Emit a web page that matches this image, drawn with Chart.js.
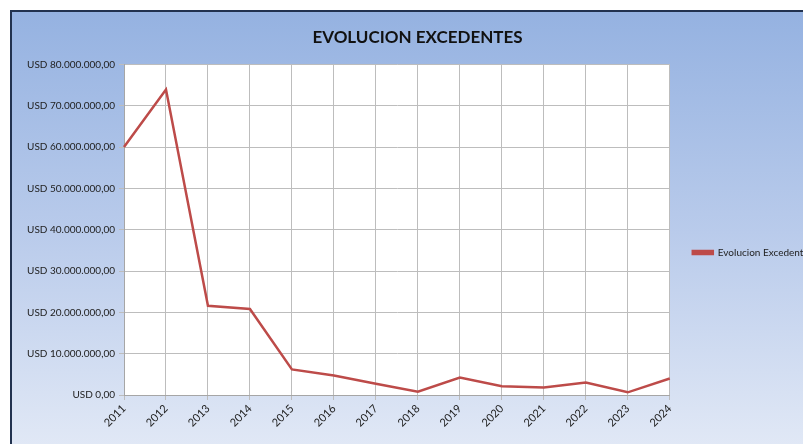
<!DOCTYPE html>
<html>
<head>
<meta charset="utf-8">
<script src="https://cdn.jsdelivr.net/npm/chart.js@4/dist/chart.umd.min.js"></script>
<style>
    html, body { margin: 0; padding: 0; background: #ffffff; overflow: hidden; width: 803px; height: 444px; }
    #frame {
        position: absolute; left: 10px; top: 10px; width: 840px; height: 440px;
        border-top: 2px solid #22324f; border-left: 2px solid #22324f;
        background: linear-gradient(to bottom, #95b2e1 0%, #b9cbeb 50%, #e2e9f6 100%);
    }
    #wrap { position: absolute; left: 0; top: 0; width: 811px; height: 433px; }
</style>
</head>
<body>
<div id="frame"><div id="wrap"><canvas id="myChart"></canvas></div></div>
<script>
const CHART_TITLE = 'EVOLUCION EXCEDENTES';
const SERIES_LABEL = 'Evolucion Excedentes';
const YEARS = ['2011', '2012', '2013', '2014', '2015', '2016', '2017', '2018', '2019', '2020', '2021', '2022', '2023', '2024'];
const EXCEDENTES = [60000000, 73900000, 21600000, 20800000, 6200000, 4700000, 2700000, 800000, 4200000, 2100000, 1800000, 3000000, 650000, 4000000];
const Y_TICKS = [0, 10000000, 20000000, 30000000, 40000000, 50000000, 60000000, 70000000, 80000000];
const LINE_COLOR = '#bd4b49';
const GRID_COLOR = '#bdbdbd';
const FONT_FAMILY = 'Lato, "Liberation Sans", sans-serif';

function formatUsd(value) {
    const whole = Math.round(value).toString().replace(/\B(?=(\d{3})+(?!\d))/g, '.');
    return 'USD ' + whole + ',00';
}

const plotBackground = {
    id: 'plotBackground',
    beforeDraw(chart) {
        const area = chart.chartArea;
        const ctx = chart.ctx;
        ctx.save();
        ctx.fillStyle = '#ffffff';
        ctx.fillRect(area.left, area.top, area.right - area.left, area.bottom - area.top);
        ctx.restore();
    }
};

const config = {
    type: 'line',
    data: {
        labels: YEARS,
        datasets: [{
            label: SERIES_LABEL,
            data: EXCEDENTES,
            borderColor: LINE_COLOR,
            backgroundColor: LINE_COLOR,
            borderWidth: 2.5,
            pointRadius: 0,
            tension: 0
        }]
    },
    options: {
        responsive: true,
        maintainAspectRatio: false,
        animation: false,
        layout: { padding: 0 },
        plugins: {
            title: {
                display: true,
                text: CHART_TITLE,
                color: '#111111',
                font: { family: FONT_FAMILY, size: 17, weight: 'bold' },
                padding: { top: 15, bottom: 17 }
            },
            legend: {
                position: 'right',
                // empty title only pushes the legend entry down a bit
                title: { display: true, text: ' ', padding: { top: 0, bottom: 35 }, font: { size: 11 } },
                labels: {
                    boxWidth: 20,
                    boxHeight: 3,
                    padding: 23,
                    color: '#222222',
                    font: { family: FONT_FAMILY, size: 10 }
                }
            },
            tooltip: { enabled: false }
        },
        scales: {
            x: {
                offset: false,
                grid: { color: GRID_COLOR, tickLength: 5 },
                border: { color: '#a6a6a6' },
                ticks: {
                    minRotation: 45,
                    maxRotation: 45,
                    color: '#222222',
                    font: { family: FONT_FAMILY, size: 11 },
                    padding: 2
                },
                afterFit(scale) { scale.height = 50; }
            },
            y: {
                min: 0,
                max: 80000000,
                afterBuildTicks(scale) { scale.ticks = Y_TICKS.map((v) => ({ value: v })); },
                grid: { color: GRID_COLOR, tickLength: 5 },
                border: { color: '#a6a6a6' },
                ticks: {
                    color: '#222222',
                    font: { family: FONT_FAMILY, size: 10 },
                    padding: 4,
                    callback: (value) => formatUsd(value)
                },
                afterFit(scale) { scale.width = 112; }
            }
        }
    },
    plugins: [plotBackground]
};

new Chart(document.querySelector('#myChart'), config);
</script>
</body>
</html>
